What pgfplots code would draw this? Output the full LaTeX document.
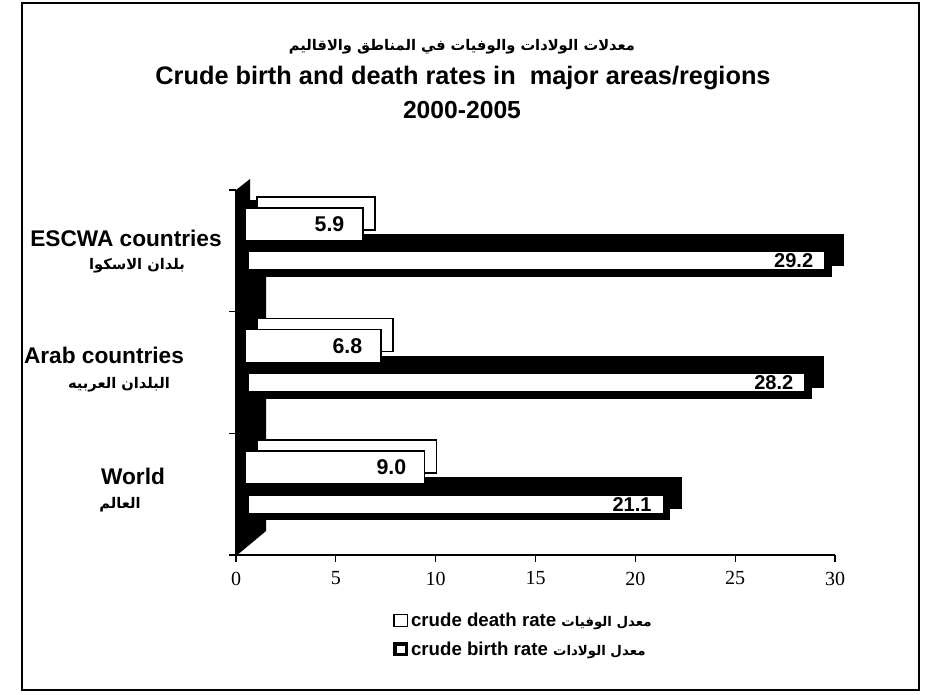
\documentclass[border=0pt]{standalone}
\usepackage{fontspec}
\setmainfont{Liberation Sans}
\newfontfamily\arabicfont[Script=Arabic]{DejaVu Sans}
\newfontfamily\numfont{Liberation Serif}
\TeXXeTstate=1
\usepackage{pgfplots}
\pgfplotsset{compat=1.18}
\newcommand{\ar}[1]{{\arabicfont\beginR #1\endR}}
\begin{document}
\begin{tikzpicture}
\begin{scope}[x=0.75pt,y=-0.75pt]
\path (0,0) rectangle (940,694);
\draw[line width=1.1pt] (22,3) rectangle (919,690);
% left wall of the 3D plot
\fill[black] (236,556) -- (236,190) -- (250,179) -- (250,200) -- (266,200) -- (266,531) -- cycle;
% title
\node[font=\bfseries\fontsize{11}{13}\selectfont] at (462,47) {\ar{معدلات الولادات والوفيات في المناطق والاقاليم}};
\node[font=\bfseries\fontsize{19}{21}\selectfont] at (463,78) {Crude birth and death rates in\ \ major areas/regions};
\node[font=\bfseries\fontsize{18.5}{21}\selectfont] at (462,110) {2000-2005};
% category labels
\node[font=\bfseries\fontsize{17}{19}\selectfont] at (126,238) {ESCWA countries};
\node[font=\bfseries\fontsize{11}{13}\selectfont] at (137,266) {\ar{بلدان الاسكوا}};
\node[font=\bfseries\fontsize{17}{19}\selectfont] at (104,355) {Arab countries};
\node[font=\bfseries\fontsize{11}{13}\selectfont] at (119,385) {\ar{البلدان العربيه}};
\node[font=\bfseries\fontsize{17}{19}\selectfont] at (133,476) {World};
\node[font=\bfseries\fontsize{11}{13}\selectfont] at (120,505) {\ar{العالم}};
\end{scope}
\begin{axis}[
  at={(177pt,-416.25pt)}, anchor=south west,
  scale only axis, width=449.25pt, height=273.75pt,
  xmin=0, xmax=30, ymin=0, ymax=3,
  clip=false,
  axis lines*=left,
  axis line style={line width=0.9pt},
  tick style={line width=0.9pt, black},
  tick align=outside,
  major tick length=5pt,
  xtick={0,5,...,30},
  ytick={0,1,2,3}, yticklabels={},
  /pgf/number format/assume math mode=true,
  xticklabel style={font=\numfont\fontsize{15}{17}\selectfont, yshift=-4pt},
  legend style={draw=none, fill=none, at={(0.262,-0.15)}, anchor=north west,
    font=\bfseries\fontsize{14}{16}\selectfont, row sep=6pt, inner sep=0pt,
    /tikz/every even column/.style={column sep=0pt}},
  legend cell align=left,
]
% birth rate: depth (black) then front
\addplot[xbar, bar width=0.2014, bar shift=-0.0822, fill=black, draw=black,
  line width=5.625pt, xshift=15.75pt, yshift=8.25pt, forget plot]
  coordinates {(21.1,0.5) (28.2,1.5) (29.2,2.5)};
\addplot[xbar, bar width=0.2014, bar shift=-0.0822, fill=white, draw=black,
  line width=5.625pt, xshift=6.75pt, forget plot,
  point meta=x,
  nodes near coords={\pgfmathprintnumber[fixed,fixed zerofill,precision=1]{\pgfplotspointmeta}},
  every node near coord/.append style={anchor=east, xshift=-5pt, yshift=-7.5pt, black,
    font=\bfseries\fontsize{15}{17}\selectfont, /pgf/number format/assume math mode=true}]
  coordinates {(21.1,0.5) (28.2,1.5) (29.2,2.5)};
% death rate: depth then front
\addplot[xbar, bar width=0.2712, bar shift=0.2178, fill=white, draw=black,
  line width=1.1pt, xshift=15.75pt, yshift=8.25pt, forget plot]
  coordinates {(9.0,0.5) (6.8,1.5) (5.9,2.5)};
\addplot[xbar, bar width=0.2712, bar shift=0.2178, fill=white, draw=black,
  line width=1.1pt, xshift=6.75pt, forget plot,
  point meta=x,
  nodes near coords={\pgfmathprintnumber[fixed,fixed zerofill,precision=1]{\pgfplotspointmeta}},
  every node near coord/.append style={anchor=east, xshift=-10pt, yshift=19.9pt, black,
    font=\bfseries\fontsize{16}{18}\selectfont, /pgf/number format/assume math mode=true}]
  coordinates {(9.0,0.5) (6.8,1.5) (5.9,2.5)};
\addlegendimage{legend image code/.code={\draw[black, line width=1.3pt, fill=white] (0pt,-4.5pt) rectangle (10pt,4.5pt);}}
\addlegendentry{crude death rate \ar{\fontsize{10}{12}\selectfont معدل الوفيات}}
\addlegendimage{legend image code/.code={\draw[black, line width=2.6pt, fill=white] (0.6pt,-3.9pt) rectangle (9.4pt,3.9pt);}}
\addlegendentry{crude birth rate \ar{\fontsize{10}{12}\selectfont معدل الولادات}}
\end{axis}
\end{tikzpicture}
\end{document}
